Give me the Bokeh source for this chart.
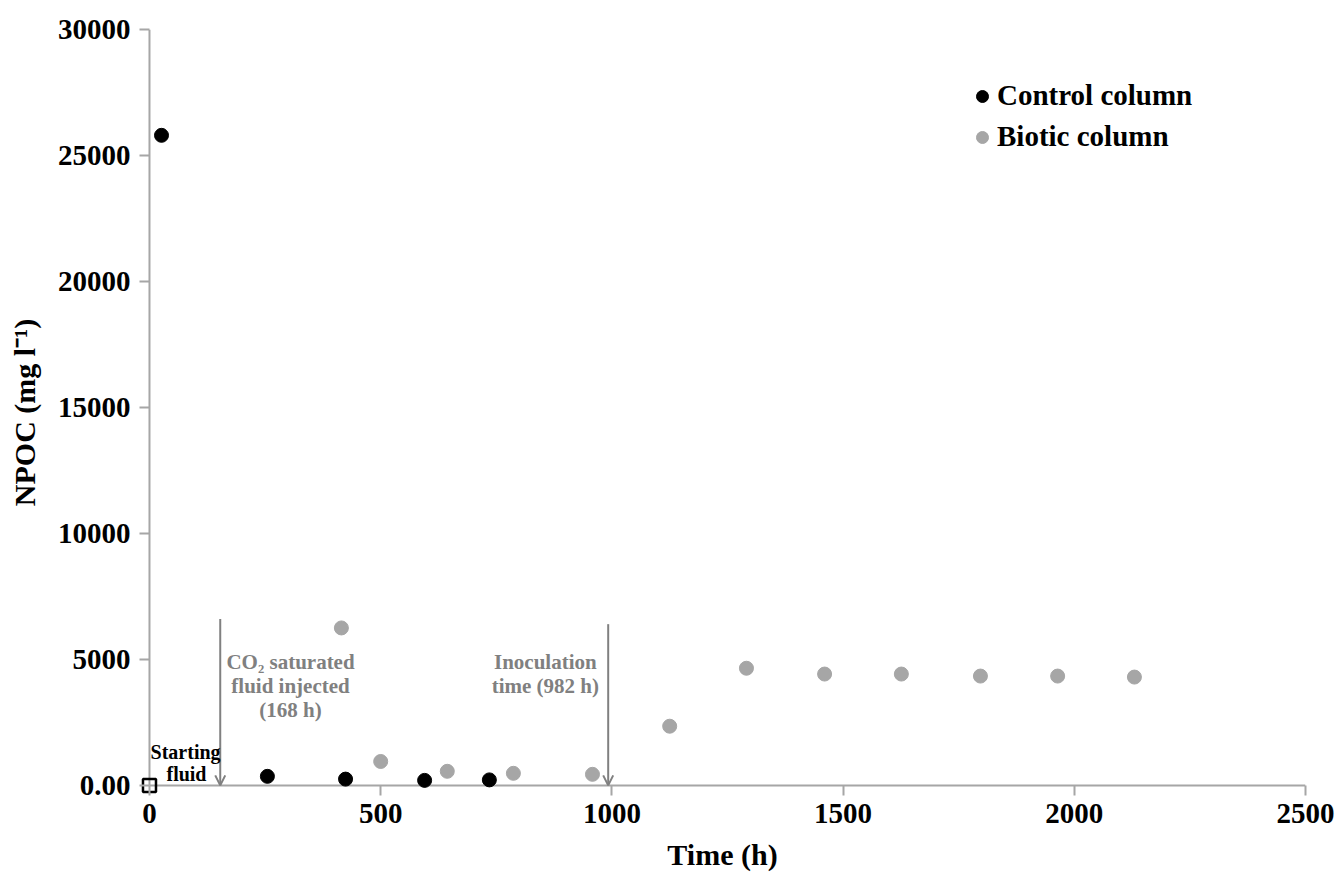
from bokeh.plotting import figure
from bokeh.models import (Range1d, FixedTicker, Label, Arrow, OpenHead, Legend, LegendItem,
                          ColumnDataSource)
from bokeh.embed import file_html
from bokeh.resources import INLINE

# ---- data ----
control_time = [26, 255, 424, 595, 735]
control_npoc = [25800, 360, 250, 200, 220]

biotic_time = [415, 500, 644, 787, 958, 1125, 1291, 1460, 1626, 1797, 1964, 2130]
biotic_npoc = [6250, 950, 560, 480, 440, 2350, 4650, 4420, 4420, 4340, 4340, 4300]

start_time = [0]
start_npoc = [0]

x_ticks = [0, 500, 1000, 1500, 2000, 2500]
y_ticks = [0, 5000, 10000, 15000, 20000, 25000, 30000]

co2_time = 153
inoc_time = 992

FONT = "Liberation Serif"
AXIS_GRAY = "#a6a6a6"
GRAY = "#a6a6a6"
ANN_GRAY = "#808080"

p = figure(width=1336, height=874, output_backend="svg", toolbar_location=None,
           x_range=Range1d(-21.6, 2500), y_range=Range1d(-400, 30000),
           min_border_left=139, min_border_right=31, min_border_top=29, min_border_bottom=79)
p.outline_line_color = None
p.xgrid.grid_line_color = None
p.ygrid.grid_line_color = None
p.background_fill_color = "white"

for ax in (p.xaxis[0], p.yaxis[0]):
    ax.axis_line_color = None
    ax.major_tick_line_color = AXIS_GRAY
    ax.major_tick_line_width = 2
    ax.major_tick_out = 0
    ax.major_tick_in = 10
    ax.minor_tick_line_color = None
    ax.major_label_text_font = FONT
    ax.major_label_text_font_style = "bold"
    ax.major_label_text_font_size = "29px"
    ax.major_label_text_color = "black"
    ax.axis_label_text_font = FONT
    ax.axis_label_text_font_style = "bold"
    ax.axis_label_text_font_size = "30px"
    ax.axis_label_text_color = "black"

p.xaxis[0].ticker = FixedTicker(ticks=x_ticks)
p.yaxis[0].ticker = FixedTicker(ticks=y_ticks)
p.yaxis[0].major_label_overrides = {0: "0.00"}
p.xaxis[0].major_label_standoff = 8
p.yaxis[0].major_label_standoff = 9
p.xaxis[0].axis_label = "Time (h)"
p.yaxis[0].axis_label = "NPOC (mg l\u207b\u00b9)"
p.xaxis[0].axis_label_standoff = 12
p.yaxis[0].axis_label_standoff = 14

# axis lines at x=0 and y=0
p.segment(x0=[x_ticks[0], x_ticks[0]], y0=[y_ticks[0], y_ticks[0]],
          x1=[x_ticks[0], x_ticks[-1]], y1=[y_ticks[-1], y_ticks[0]],
          line_color=AXIS_GRAY, line_width=2, level="underlay")

# data marks
src_c = ColumnDataSource(dict(x=control_time, y=control_npoc))
src_b = ColumnDataSource(dict(x=biotic_time, y=biotic_npoc))
src_s = ColumnDataSource(dict(x=start_time, y=start_npoc))

r_c = p.scatter("x", "y", source=src_c, size=14, marker="circle",
                fill_color="black", line_color="black")
r_b = p.scatter("x", "y", source=src_b, size=14, marker="circle",
                fill_color=GRAY, line_color=GRAY)
p.scatter("x", "y", source=src_s, size=13, marker="square",
          fill_color=None, line_color="black", line_width=2.5)

# arrows
for xt, ytop in ((co2_time, 6600), (inoc_time, 6400)):
    p.add_layout(Arrow(x_start=xt, y_start=ytop, x_end=xt, y_end=0,
                       line_color=ANN_GRAY, line_width=2,
                       end=OpenHead(size=10, line_color=ANN_GRAY, line_width=2)))

def add_label(x, y, text, color, size):
    p.add_layout(Label(x=x, y=y, text=text, text_align="center", text_baseline="middle",
                       text_font=FONT, text_font_style="bold",
                       text_font_size=size, text_color=color))

add_label(305, 4900, "CO\u2082 saturated", ANN_GRAY, "21px")
add_label(305, 3950, "fluid injected", ANN_GRAY, "21px")
add_label(305, 3000, "(168 h)", ANN_GRAY, "21px")
add_label(856, 4900, "Inoculation", ANN_GRAY, "21px")
add_label(856, 3950, "time (982 h)", ANN_GRAY, "21px")
add_label(78, 1310, "Starting", "black", "20px")
add_label(80, 470, "fluid", "black", "20px")

legend = Legend(items=[LegendItem(label="Control column", renderers=[r_c]),
                       LegendItem(label="Biotic column", renderers=[r_b])],
                location=(828, 642))
legend.label_text_font = FONT
legend.label_text_font_style = "bold"
legend.label_text_font_size = "29px"
legend.label_text_color = "black"
legend.border_line_color = None
legend.background_fill_alpha = 0
legend.padding = 0
legend.margin = 0
legend.spacing = 8
legend.glyph_width = 30
legend.glyph_height = 30
legend.label_height = 30
legend.label_standoff = 0
p.add_layout(legend)

open("out.html", "w").write(file_html(p, INLINE))
